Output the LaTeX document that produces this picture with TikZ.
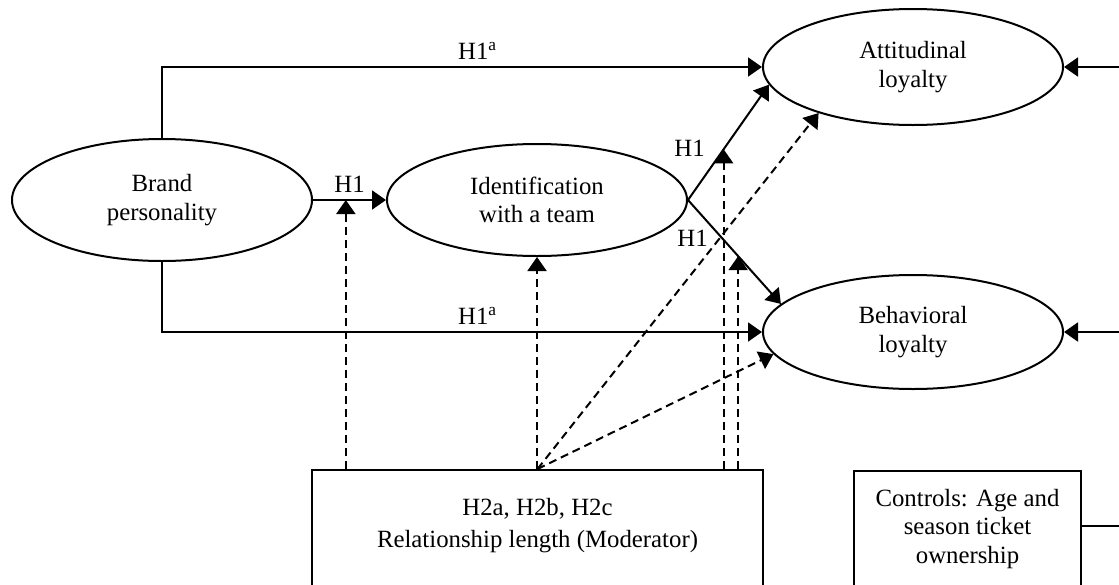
\documentclass[tikz,border=0pt]{standalone}
\usepackage{fontspec}
\setmainfont{Liberation Serif}
\usetikzlibrary{shapes.geometric,arrows.meta}

\begin{document}
\begin{tikzpicture}[x=0.5pt, y=-0.5pt, line width=1pt,
    font=\fontsize{12.4}{14.2}\selectfont,
    latent/.style={ellipse, draw, align=center, minimum width=150pt, minimum height=58pt, inner sep=0pt},
    box/.style={rectangle, draw, align=center, anchor=north},
    hyp/.style={-{Triangle[length=7pt,width=9.5pt]}},
    moder/.style={hyp, dash pattern=on 4pt off 2.5pt}]
  \useasboundingbox (0,0) rectangle (1119,584);
  \clip (0,0) rectangle (1119,584);
  \node[latent, minimum height=61pt] (brand) at (162,200) {Brand\\personality};
  \node[latent, minimum height=56pt] (ident) at (537,200) {Identification\\with a team};
  \node[latent] (att) at (913,67) {Attitudinal\\loyalty};
  \node[latent, minimum height=57pt] (beh) at (913,332) {Behavioral\\loyalty};
  \node[box, minimum width=225.5pt, inner ysep=14pt] (mod) at (537.5,469) {H2a, H2b, H2c\\[2pt]Relationship length (Moderator)\\[60pt]};
  \node[box, minimum width=113.5pt, inner ysep=9pt] (ctl) at (967.5,470) {Controls: Age and\\season ticket\\ownership\\[40pt]};
  \coordinate (edge) at (1119,526);

  \draw[hyp] (brand.north) |- (att.west) node[pos=0.763, above] (h1top) {H1\textsuperscript{a}};
  \draw[hyp] (brand.south) |- (beh.west) node[pos=0.763, above] (h1bot) {H1\textsuperscript{a}};
  \draw[hyp] (brand) -- (ident) node[midway, above] (h1a) {H1} coordinate[pos=0.45] (m1);
  \draw[hyp] (ident.east) -- (att.187) node[pos=0.45, left=6pt] (h1b) {H1} coordinate[pos=0.44] (m2);
  \draw[hyp] (ident.east) -- (beh.168) node[pos=0.37, left=3.5pt] (h1c) {H1} coordinate[pos=0.54] (m3);
  \draw[hyp] (edge |- att.east) -- (att.east);
  \draw[hyp] (edge |- beh.east) -- (beh.east);
  \draw (edge) -- (edge -| ctl.east);

  \draw[moder] (m1 |- mod.north) -- (m1);
  \draw[moder] (ident.south |- mod.north) -- (ident.south);
  \draw[moder] (m2 |- mod.north) -- (m2);
  \draw[moder] (m3 |- mod.north) -- (m3);
  \draw[moder] (mod.north) -- (att.206);
  \draw[moder] (mod.north) -- (beh.189);
\end{tikzpicture}
\end{document}
